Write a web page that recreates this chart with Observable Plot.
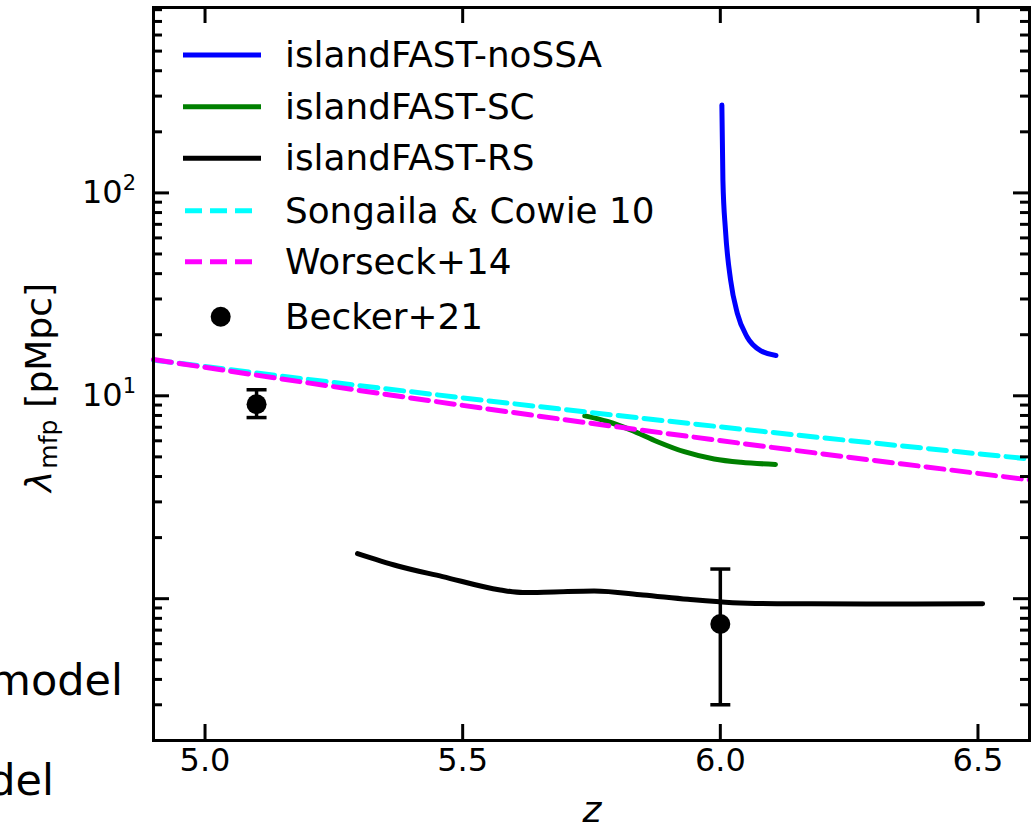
<!DOCTYPE html>
<html>
<head>
<meta charset="utf-8">
<script src="https://cdn.jsdelivr.net/npm/d3@7"></script>
<script src="https://cdn.jsdelivr.net/npm/@observablehq/plot@0.6"></script>
<style>
  html, body { margin: 0; padding: 0; background: #fff; }
  #chart { width: 1031px; height: 829px; overflow: hidden; }
</style>
</head>
<body>
<div id="chart"></div>
<script>
// ---- data ----
const noSSA_z = [6.003, 6.005, 6.010, 6.020, 6.033, 6.052, 6.078, 6.108];
const noSSA_v = [271, 115.6, 65.5, 37.1, 25.5, 19.5, 16.7, 15.8];

const sc_z = [5.737, 5.781, 5.826, 5.878, 5.930, 5.988, 6.040, 6.107];
const sc_v = [7.96, 7.47, 6.79, 5.94, 5.30, 4.88, 4.70, 4.59];

const rs_z = [5.296, 5.374, 5.461, 5.573, 5.617, 5.677, 5.755, 5.850, 5.937, 6.024, 6.110, 6.283, 6.509];
const rs_v = [1.668, 1.449, 1.285, 1.104, 1.072, 1.080, 1.091, 1.043, 0.993, 0.956, 0.945, 0.942, 0.945];

const songaila_z = [4.9, 5.2, 5.5, 5.8, 6.1, 6.4, 6.6];
const songaila_v = [15.0, 12.05, 9.77, 8.0, 6.6, 5.5, 4.88];

const worseck_z = [4.9, 5.2, 5.5, 5.8, 6.1, 6.4, 6.6];
const worseck_v = [15.1, 11.58, 8.97, 7.03, 5.57, 4.46, 3.85];

const becker_z = [5.1, 6.0];
const becker_v = [9.09, 0.75];
const becker_hi = [10.71, 1.40];
const becker_lo = [7.81, 0.30];

const xTickVals = [5.0, 5.5, 6.0, 6.5];
const yMajor = [1, 10, 100];
const yMajorExp = ["0", "1", "2"];
const yMajorShown = [10, 100];
const yMinor = [0.2,0.3,0.4,0.5,0.6,0.7,0.8,0.9, 2,3,4,5,6,7,8,9, 20,30,40,50,60,70,80,90, 200,300,400,500,600,700,800];

const legendLabels = ["islandFAST-noSSA", "islandFAST-SC", "islandFAST-RS", "Songaila & Cowie 10", "Worseck+14", "Becker+21"];
const legendColors = ["#0000ff", "#008000", "#000000", "#00ffff", "#ff00ff", "#000000"];
const legendKinds = ["solid", "solid", "solid", "dash", "dash", "dot"];

// ---- build tables ----
const zip = (zs, vs) => zs.map((z, i) => ({z, v: vs[i]}));
const noSSA = zip(noSSA_z, noSSA_v);
const sc = zip(sc_z, sc_v);
const rs = zip(rs_z, rs_v);
const songaila = zip(songaila_z, songaila_v);
const worseck = zip(worseck_z, worseck_v);
const becker = becker_z.map((z, i) => ({z, v: becker_v[i], hi: becker_hi[i], lo: becker_lo[i]}));
const caps = becker.flatMap(d => [{z: d.z, v: d.hi}, {z: d.z, v: d.lo}]);

const W = 1031, H = 829;
const mL = 153, mR = 2, mT = 7, mB = 89;
const iw = W - mL - mR, ih = H - mT - mB;
const majLen = 16, minLen = 9;

const hbar = {
  draw(ctx, size) {
    const r = Math.sqrt(size / Math.PI);
    ctx.moveTo(-r, 0);
    ctx.lineTo(r, 0);
  }
};

const dash = "18,8";
const chart = Plot.plot({
  width: W, height: H,
  marginLeft: mL, marginRight: mR, marginTop: mT, marginBottom: mB,
  style: {fontFamily: "'DejaVu Sans', sans-serif", fontSize: "32px", background: "white", color: "black", overflow: "visible"},
  x: {domain: [4.9, 6.6], axis: null},
  y: {type: "log", domain: [0.2, 820], axis: null},
  marks: [
    Plot.line(noSSA, {x: "z", y: "v", stroke: "#0000ff", strokeWidth: 5, curve: "monotone-x"}),
    Plot.line(sc, {x: "z", y: "v", stroke: "#008000", strokeWidth: 5, curve: "monotone-x"}),
    Plot.line(rs, {x: "z", y: "v", stroke: "#000000", strokeWidth: 5, curve: "monotone-x"}),
    Plot.line(songaila, {x: "z", y: "v", stroke: "#00ffff", strokeWidth: 5, strokeDasharray: dash, curve: "monotone-x"}),
    Plot.line(worseck, {x: "z", y: "v", stroke: "#ff00ff", strokeWidth: 5, strokeDasharray: dash, curve: "monotone-x"}),
    Plot.ruleX(becker, {x: "z", y1: "lo", y2: "hi", stroke: "black", strokeWidth: 3.5}),
    Plot.dot(caps, {x: "z", y: "v", symbol: hbar, r: 10, stroke: "black", strokeWidth: 3.5, fill: "none"}),
    Plot.dot(becker, {x: "z", y: "v", r: 10, fill: "black", stroke: "none"}),
    // ticks (inward, all four sides)
    Plot.ruleY(yMajor, {y: d => d, insetRight: iw - majLen, stroke: "black", strokeWidth: 3}),
    Plot.ruleY(yMinor, {y: d => d, insetRight: iw - minLen, stroke: "black", strokeWidth: 3}),
    Plot.ruleY(yMajor, {y: d => d, insetLeft: iw - majLen, stroke: "black", strokeWidth: 3}),
    Plot.ruleY(yMinor, {y: d => d, insetLeft: iw - minLen, stroke: "black", strokeWidth: 3}),
    Plot.ruleX(xTickVals, {x: d => d, insetTop: ih - majLen, stroke: "black", strokeWidth: 3}),
    Plot.ruleX(xTickVals, {x: d => d, insetBottom: ih - majLen, stroke: "black", strokeWidth: 3}),
    Plot.frame({stroke: "black", strokeWidth: 3}),
    Plot.text(xTickVals, {x: d => d, frameAnchor: "bottom", dy: 30, text: d => d.toFixed(1), fontSize: 32, fill: "black"})
  ]
});

document.getElementById("chart").appendChild(chart);

const svg = d3.select(chart);
const yS = chart.scale("y");
const ns = "'DejaVu Sans', sans-serif";

// y tick labels 10^n
yMajor.forEach((v, i) => {
  if (!yMajorShown.includes(v)) return;
  const y = yS.apply(v);
  const t = svg.append("text")
    .attr("x", 136).attr("y", y + 11)
    .attr("text-anchor", "end")
    .attr("font-family", ns).attr("font-size", 32).attr("fill", "black");
  t.append("tspan").text("10");
  t.append("tspan").attr("dy", -13).attr("font-size", 21).text(yMajorExp[i]);
});

// y axis label
const yl = svg.append("text")
  .attr("transform", "translate(51,492) rotate(-90)")
  .attr("text-anchor", "start")
  .attr("font-family", ns).attr("font-size", 36).attr("fill", "black");
yl.append("tspan").attr("font-style", "italic").text("λ");
yl.append("tspan").attr("font-size", 25).attr("dy", 6).attr("dx", 2).text("mfp");
yl.append("tspan").attr("dy", -6).attr("dx", 12).text("[pMpc]");

// x axis label
svg.append("text")
  .attr("x", 592).attr("y", 822)
  .attr("text-anchor", "middle")
  .attr("font-family", ns).attr("font-size", 36).attr("font-style", "italic").attr("fill", "black")
  .text("z");

// leftover texts from neighbouring panel (cut at the left edge in the reference)
svg.append("text").attr("x", 123).attr("y", 695).attr("text-anchor", "end")
  .attr("font-family", ns).attr("font-size", 43).attr("fill", "black").text("model");
svg.append("text").attr("x", 54).attr("y", 795).attr("text-anchor", "end")
  .attr("font-family", ns).attr("font-size", 43).attr("fill", "black").text("del");

// legend
const rowY = [55, 106.7, 158.3, 210.7, 261.7, 316.7];
const lg = svg.append("g").attr("text-anchor", "start");
legendLabels.forEach((lab, i) => {
  const y = rowY[i];
  if (legendKinds[i] === "solid") {
    lg.append("line").attr("x1", 183).attr("x2", 261).attr("y1", y).attr("y2", y)
      .attr("stroke", legendColors[i]).attr("stroke-width", 5);
  } else if (legendKinds[i] === "dash") {
    lg.append("line").attr("x1", 185).attr("x2", 253).attr("y1", y).attr("y2", y)
      .attr("stroke", legendColors[i]).attr("stroke-width", 5).attr("stroke-dasharray", "17,8");
  } else {
    lg.append("circle").attr("cx", 220.7).attr("cy", y).attr("r", 10).attr("fill", legendColors[i]);
  }
  lg.append("text").attr("x", 285).attr("y", y + 11.9).attr("text-anchor", "start")
    .attr("font-family", ns).attr("font-size", 35.8).attr("fill", "black").text(lab);
});
</script>
</body>
</html>
